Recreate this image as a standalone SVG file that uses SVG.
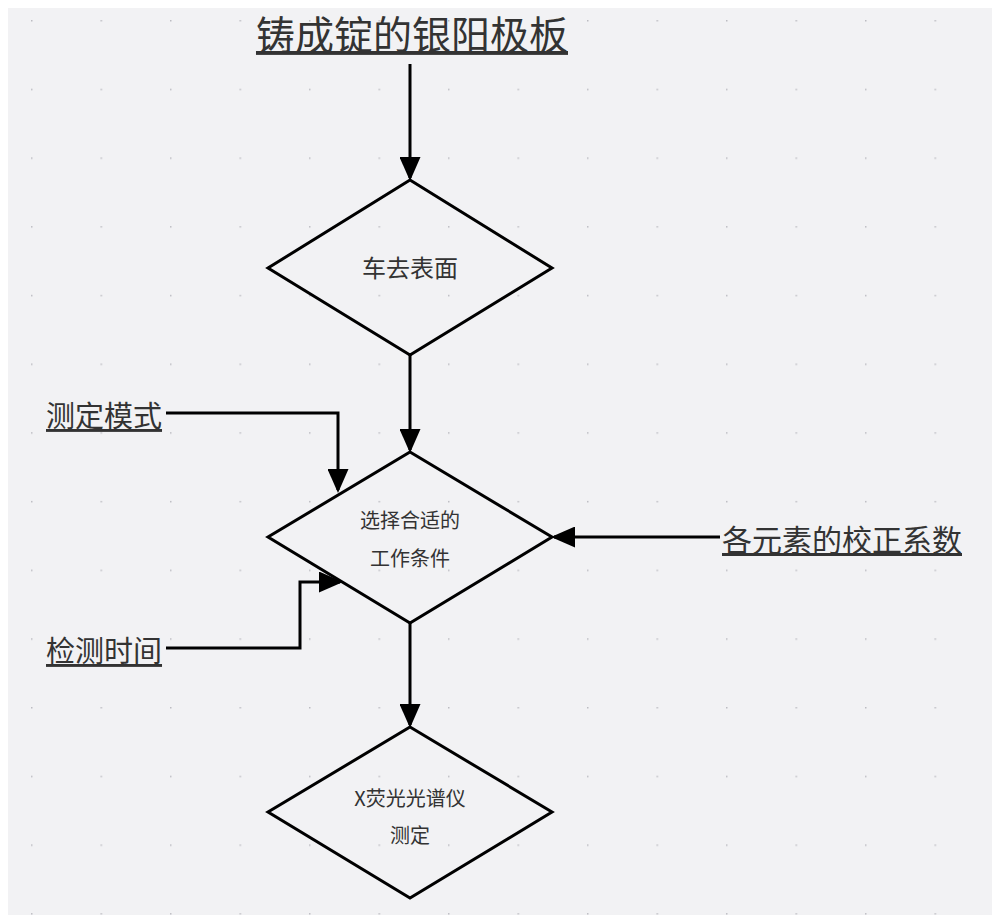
<svg xmlns="http://www.w3.org/2000/svg" width="1000" height="922" viewBox="0 0 1000 922">
<style>
.d{fill:none;stroke:#000;stroke-width:3;stroke-linejoin:miter}
.c{fill:none;stroke:#000;stroke-width:3}
.t{font-family:"Noto Sans CJK SC","Liberation Sans",sans-serif;fill:#333;text-anchor:middle}
.l{font-family:"Noto Sans CJK SC","Liberation Sans",sans-serif;fill:#333;text-decoration:underline}
</style>
<defs>
<pattern id="g" x="31" y="20" width="69.5" height="68.7" patternUnits="userSpaceOnUse">
<rect x="-1.5" y="-1.5" width="3" height="3" fill="#bcbcc2"/>
</pattern>
<marker id="a" markerWidth="8" markerHeight="7" refX="7" refY="3.5" orient="auto" markerUnits="strokeWidth"><path d="M0,0L8,3.5L0,7Z" fill="#000"/></marker>
</defs>
<rect width="1000" height="922" fill="#fff"/>
<rect x="8" y="8" width="984" height="907" fill="#f2f2f4"/>
<rect x="8" y="8" width="984" height="907" fill="url(#g)"/>
<g id="n0"><text class="l" x="412" y="49" font-size="39" text-anchor="middle">铸成锭的银阳极板</text></g>
<g id="n1"><path class="d" d="M410,180L552,268L410,355L268,268Z"/><text class="t" x="410" y="277" font-size="24">车去表面</text></g>
<g id="n2"><path class="d" d="M410,452L552,537L410,623L268,537Z"/><text class="t" x="410" y="528" font-size="20">选择合适的</text><text class="t" x="410" y="566" font-size="20">工作条件</text></g>
<g id="n3"><path class="d" d="M410,727L552,812L410,898L268,812Z"/><text class="t" x="410" y="806" font-size="20">X荧光光谱仪</text><text class="t" x="410" y="843" font-size="20">测定</text></g>
<g id="n4"><text class="l" x="46" y="427" font-size="29">测定模式</text></g>
<g id="n5"><text class="l" x="46" y="662" font-size="29">检测时间</text></g>
<g id="n6"><text class="l" x="722" y="551" font-size="30">各元素的校正系数</text></g>
<g id="connectors">
<path class="c" d="M410,64V178" marker-end="url(#a)"/>
<path class="c" d="M410,355V450" marker-end="url(#a)"/>
<path class="c" d="M410,623V725" marker-end="url(#a)"/>
<path class="c" d="M166,413H338V490" marker-end="url(#a)"/>
<path class="c" d="M166,648H300V582H340" marker-end="url(#a)"/>
<path class="c" d="M720,537H554" marker-end="url(#a)"/>
</g>
</svg>
